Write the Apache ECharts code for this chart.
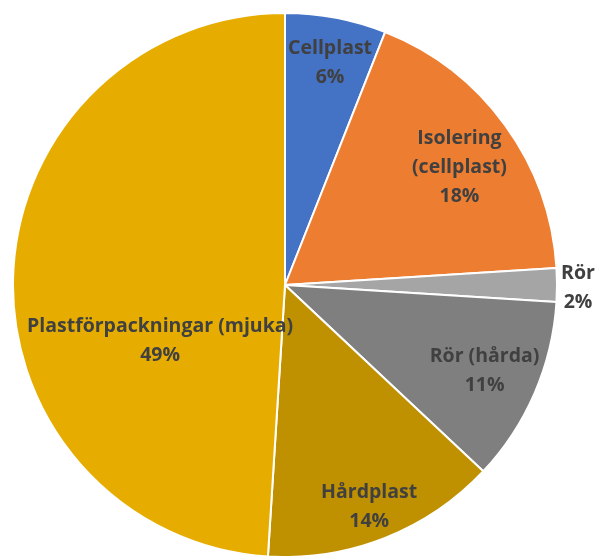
<!DOCTYPE html>
<html>
<head>
<meta charset="utf-8">
<script src="https://cdn.jsdelivr.net/npm/echarts@6/dist/echarts.min.js"></script>
<style>html,body{margin:0;padding:0;background:#fff;}#c{width:597px;height:556px;}</style>
</head>
<body>
<div id="c"></div>
<script>
const categories = ['Cellplast', 'Isolering (cellplast)', 'Rör', 'Rör (hårda)', 'Hårdplast', 'Plastförpackningar (mjuka)'];
const labelTexts = ['Cellplast', 'Isolering\n(cellplast)', 'Rör', 'Rör (hårda)', 'Hårdplast', 'Plastförpackningar (mjuka)'];
const values = [6, 18, 2, 11, 14, 49];
const colors = ['#4472C4', '#ED7D31', '#A5A5A5', '#7F7F7F', '#BF9000', '#E6AD00'];
const labelOffsets = [[19, -86], [62, -36], [154, 3], [72, 31], [33, 93], [14, 60]];

const chart = echarts.init(document.getElementById('c'));
chart.setOption({
  animation: false,
  series: [{
    type: 'pie',
    center: [285, 285],
    radius: 272,
    startAngle: 90,
    clockwise: true,
    itemStyle: { borderColor: '#fff', borderWidth: 2 },
    label: {
      position: 'inside',
      color: '#404040',
      fontFamily: 'Open Sans',
      fontWeight: 'bold',
      fontSize: 19.5,
      lineHeight: 29,
      align: 'center',
      formatter: p => labelTexts[p.dataIndex] + '\n' + p.value + '%'
    },
    labelLine: { show: false },
    data: categories.map((c, i) => ({
      name: c,
      value: values[i],
      itemStyle: { color: colors[i] },
      label: { offset: labelOffsets[i] }
    }))
  }]
});
</script>
</body>
</html>
